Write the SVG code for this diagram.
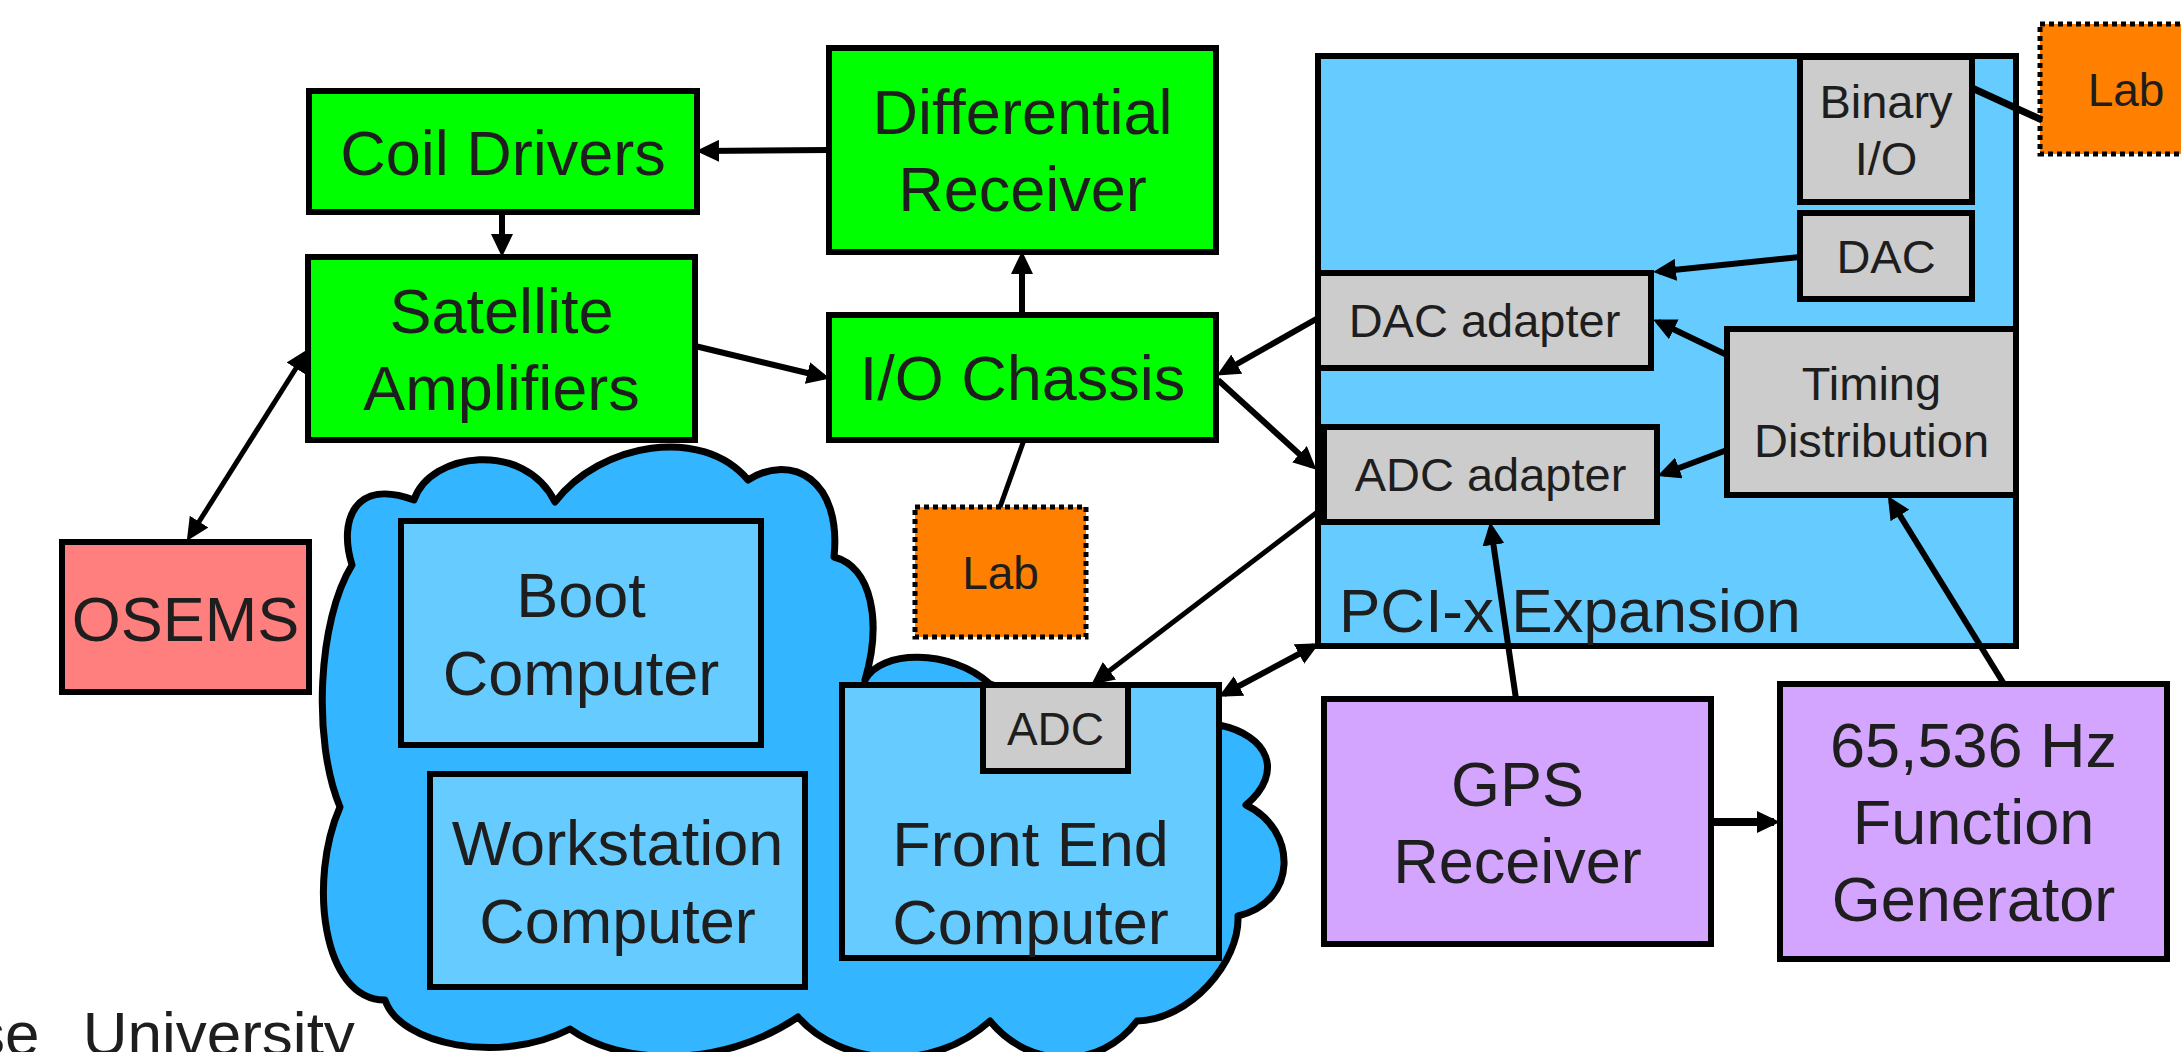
<svg xmlns="http://www.w3.org/2000/svg" width="2181" height="1052" viewBox="0 0 2181 1052">
<style>
.box{stroke:#000;stroke-width:6}
.green{fill:#00FF00}
.pink{fill:#FF7F7F}
.orange{fill:#FF7F00}
.lab{fill:#FF7F00;stroke:#000;stroke-width:5;stroke-dasharray:5 4}
.pci{fill:#66CCFF}
.grey{fill:#CCCCCC}
.purple{fill:#D3A5FE}
.cloud{fill:#33B5FF;stroke:#000;stroke-width:7;stroke-linejoin:round}
text{font-family:"Liberation Sans",Arial,Helvetica,sans-serif;fill:#1e1e1e}
.big{font-size:63px;text-anchor:middle}
.small{font-size:47px;text-anchor:middle}
.conn{stroke:#000;stroke-width:6;fill:none}
</style>
<defs>
<marker id="ah" markerUnits="userSpaceOnUse" markerWidth="23" markerHeight="22" viewBox="0 0 23 22" refX="17" refY="11" orient="auto-start-reverse">
<path d="M0,0 L23,11 L0,22 z" fill="#000"/>
</marker>
</defs>
<rect width="2181" height="1052" fill="#fff"/>

<g id="cloud">
<path class="cloud" d="M352,565 C338,520 355,478 414,500 C430,452 525,440 555,502 C600,443 702,425 748,480 C792,452 842,480 834,557 C872,567 882,622 865,680 C880,650 950,648 990,684 L1100,720 L1219,725 C1268,735 1285,772 1246,805 C1298,830 1298,902 1238,916 C1240,962 1190,1020 1137,1021 C1100,1070 1030,1070 990,1021 C930,1075 840,1065 798,1017 C720,1070 620,1065 570,1029 C500,1065 400,1045 385,1000 C322,1000 308,880 340,807 C312,740 318,620 352,565 Z"/>
</g>

<g id="coil-drivers">
<rect class="box green" x="309" y="91" width="388" height="121"/>
<text class="big" x="503" y="175">Coil Drivers</text>
</g>

<g id="differential-receiver">
<rect class="box green" x="829" y="48" width="387" height="204"/>
<text class="big" x="1022.5"><tspan x="1022.5" y="134">Differential</tspan><tspan x="1022.5" y="211">Receiver</tspan></text>
</g>

<g id="satellite-amplifiers">
<rect class="box green" x="308" y="257" width="387" height="183"/>
<text class="big" x="501.5"><tspan x="501.5" y="333">Satellite</tspan><tspan x="501.5" y="410">Amplifiers</tspan></text>
</g>

<g id="io-chassis">
<rect class="box green" x="829" y="315" width="387" height="125"/>
<text class="big" x="1022.5" y="400">I/O Chassis</text>
</g>

<g id="osems">
<rect class="box pink" x="62" y="542" width="247" height="150"/>
<text class="big" x="185.5" y="641">OSEMS</text>
</g>

<g id="lab-1">
<rect class="lab" x="915" y="507" width="171" height="130"/>
<text class="small" x="1000.5" y="589" style="font-size:46px">Lab</text>
</g>

<g id="lab-2">
<rect class="lab" x="2040" y="24" width="180" height="130"/>
<text class="small" x="2126" y="106" style="font-size:46px">Lab</text>
</g>

<g id="boot-computer">
<rect class="box pci" x="401" y="521" width="360" height="224"/>
<text class="big" x="581"><tspan x="581" y="617">Boot</tspan><tspan x="581" y="695">Computer</tspan></text>
</g>

<g id="workstation-computer">
<rect class="box pci" x="430" y="774" width="375" height="213"/>
<text class="big" x="617.5"><tspan x="617.5" y="865">Workstation</tspan><tspan x="617.5" y="943">Computer</tspan></text>
</g>

<g id="front-end-computer">
<rect class="box pci" x="842" y="685" width="377" height="273"/>
<text class="big" x="1030.5"><tspan x="1030.5" y="866">Front End</tspan><tspan x="1030.5" y="944">Computer</tspan></text>
</g>

<g id="adc">
<rect class="box grey" x="983" y="685" width="145" height="86"/>
<text class="small" x="1055.5" y="745" style="font-size:46px">ADC</text>
</g>

<g id="pci-expansion">
<rect class="box pci" x="1318" y="56" width="698" height="590"/>
<text x="1339" y="632" style="font-size:62px">PCI-x Expansion</text>
</g>

<g id="binary-io">
<rect class="box grey" x="1800" y="57" width="172" height="145"/>
<text class="small" x="1886"><tspan x="1886" y="118">Binary</tspan><tspan x="1886" y="175">I/O</tspan></text>
</g>

<g id="dac">
<rect class="box grey" x="1800" y="213" width="172" height="86"/>
<text class="small" x="1886" y="273">DAC</text>
</g>

<g id="dac-adapter">
<rect class="box grey" x="1318" y="273" width="333" height="95"/>
<text class="small" x="1484.5" y="337">DAC adapter</text>
</g>

<g id="adc-adapter">
<rect class="box grey" x="1324" y="427" width="333" height="95"/>
<text class="small" x="1490.5" y="491">ADC adapter</text>
</g>

<g id="timing-distribution">
<rect class="box grey" x="1727" y="329" width="289" height="166"/>
<text class="small" x="1871.5"><tspan x="1871.5" y="400">Timing</tspan><tspan x="1871.5" y="457">Distribution</tspan></text>
</g>

<g id="gps-receiver">
<rect class="box purple" x="1324" y="699" width="387" height="245"/>
<text class="big" x="1517.5"><tspan x="1517.5" y="806">GPS</tspan><tspan x="1517.5" y="883">Receiver</tspan></text>
</g>

<g id="function-generator">
<rect class="box purple" x="1780" y="684" width="387" height="275"/>
<text class="big" x="1973.5"><tspan x="1973.5" y="767">65,536 Hz</tspan><tspan x="1973.5" y="844">Function</tspan><tspan x="1973.5" y="921">Generator</tspan></text>
</g>

<g id="connectors">
<line class="conn" x1="829" y1="150" x2="702" y2="151" marker-end="url(#ah)"/>
<line class="conn" x1="502" y1="212" x2="502" y2="251" marker-end="url(#ah)"/>
<line class="conn" x1="1022" y1="315" x2="1022" y2="257" marker-end="url(#ah)"/>
<line class="conn" x1="695" y1="346" x2="824" y2="377" marker-end="url(#ah)"/>
<line class="conn" style="stroke-width:5" x1="190" y1="536" x2="305" y2="354" marker-start="url(#ah)" marker-end="url(#ah)"/>
<line class="conn" style="stroke-width:5" x1="1024" y1="440" x2="1000" y2="507"/>
<line class="conn" x1="1318" y1="318" x2="1222" y2="372.5" marker-end="url(#ah)"/>
<line class="conn" x1="1218" y1="380" x2="1312" y2="465.6" marker-end="url(#ah)"/>
<line class="conn" style="stroke-width:5" x1="1324" y1="507" x2="1096" y2="681" marker-end="url(#ah)"/>
<line class="conn" x1="1224" y1="694" x2="1314" y2="646" marker-start="url(#ah)" marker-end="url(#ah)"/>
<line class="conn" x1="1800" y1="257" x2="1659" y2="271.5" marker-end="url(#ah)"/>
<line class="conn" x1="1727" y1="355" x2="1658.5" y2="322" marker-end="url(#ah)"/>
<line class="conn" x1="1727" y1="450" x2="1663" y2="474" marker-end="url(#ah)"/>
<line class="conn" x1="1516" y1="699" x2="1491" y2="528" marker-end="url(#ah)"/>
<line class="conn" x1="2004" y1="684" x2="1891" y2="501" marker-end="url(#ah)"/>
<line class="conn" style="stroke-width:8" x1="1711" y1="822" x2="1774" y2="822" marker-end="url(#ah)"/>
<line class="conn" style="stroke-width:7" x1="1972" y1="88" x2="2042" y2="120"/>
</g>

<text x="-26" y="1055" style="font-size:62px;word-spacing:26px">se University</text>
</svg>
